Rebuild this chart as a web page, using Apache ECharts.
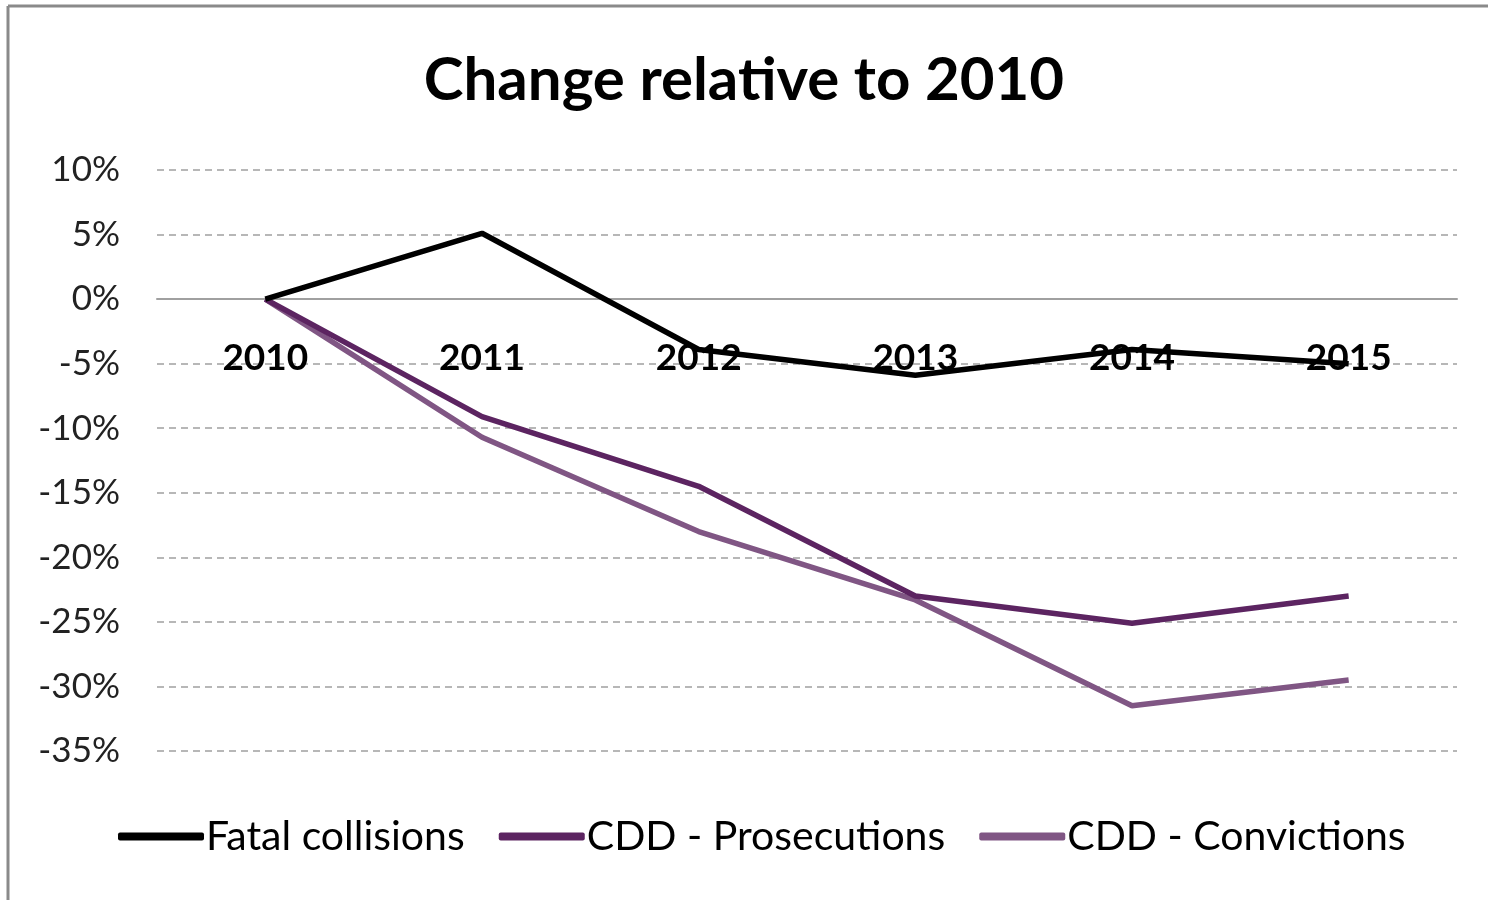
<!DOCTYPE html>
<html>
<head>
<meta charset="utf-8">
<script src="https://cdn.jsdelivr.net/npm/echarts@6/dist/echarts.min.js"></script>
<style>
html,body{margin:0;padding:0;background:#fff;}
#chart{width:1488px;height:900px;}
</style>
</head>
<body>
<div id="chart"></div>
<script>
const categories = ['2010', '2011', '2012', '2013', '2014', '2015'];
const fatalCollisions = [0, 5.1, -3.9, -5.9, -3.9, -5.0];
const cddProsecutions = [0, -9.1, -14.5, -23.0, -25.1, -23.0];
const cddConvictions = [0, -10.7, -18.0, -23.3, -31.5, -29.5];
const seriesNames = ['Fatal collisions', 'CDD - Prosecutions', 'CDD - Convictions'];
const titleText = 'Change relative to 2010';

const chart = echarts.init(document.getElementById('chart'));
const font = 'Lato, "Open Sans", sans-serif';
chart.setOption({
  animation: false,
  backgroundColor: '#fff',
  title: {
    text: titleText,
    left: 'center',
    top: 46,
    textStyle: { fontFamily: font, fontSize: 60, fontWeight: 'bold', color: '#000' }
  },
  graphic: [
    { type: 'line', shape: { x1: 8, y1: 6, x2: 1488, y2: 6 }, style: { stroke: '#8a8a8a', lineWidth: 3 } },
    { type: 'line', shape: { x1: 8, y1: 6, x2: 8, y2: 900 }, style: { stroke: '#8a8a8a', lineWidth: 3 } }
  ],
  legend: {
    top: 816,
    left: 118,
    padding: 0,
    itemWidth: 86,
    itemHeight: 8,
    itemGap: 34,
    icon: 'roundRect',
    textStyle: { fontFamily: font, fontSize: 41, color: '#000', padding: [0, 0, 0, -3] },
    data: seriesNames
  },
  grid: { left: 157, right: 31, top: 170, bottom: 149 },
  xAxis: {
    type: 'category',
    data: categories,
    boundaryGap: true,
    offset: -452,
    axisLine: { onZero: false, lineStyle: { color: '#a0a0a0', width: 2 } },
    axisTick: { show: false },
    axisLabel: { fontFamily: font, fontSize: 37, fontWeight: 'bold', color: '#000', margin: 41 }
  },
  yAxis: {
    type: 'value',
    min: -35,
    max: 10,
    interval: 5,
    axisLine: { show: false },
    axisTick: { show: false },
    axisLabel: { fontFamily: font, fontSize: 35, color: '#222', margin: 37, formatter: '{value}%' },
    splitLine: { lineStyle: { color: '#a0a0a0', type: [7, 5], width: 1.5 } }
  },
  series: [
    { name: seriesNames[0], type: 'line', data: fatalCollisions, symbol: 'none', z: 5,
      lineStyle: { color: '#000', width: 5.5 }, itemStyle: { color: '#000' } },
    { name: seriesNames[1], type: 'line', data: cddProsecutions, symbol: 'none', z: 4,
      lineStyle: { color: '#5c2461', width: 5.5 }, itemStyle: { color: '#5c2461' } },
    { name: seriesNames[2], type: 'line', data: cddConvictions, symbol: 'none', z: 3,
      lineStyle: { color: '#805684', width: 5.5 }, itemStyle: { color: '#805684' } }
  ]
});
</script>
</body>
</html>
